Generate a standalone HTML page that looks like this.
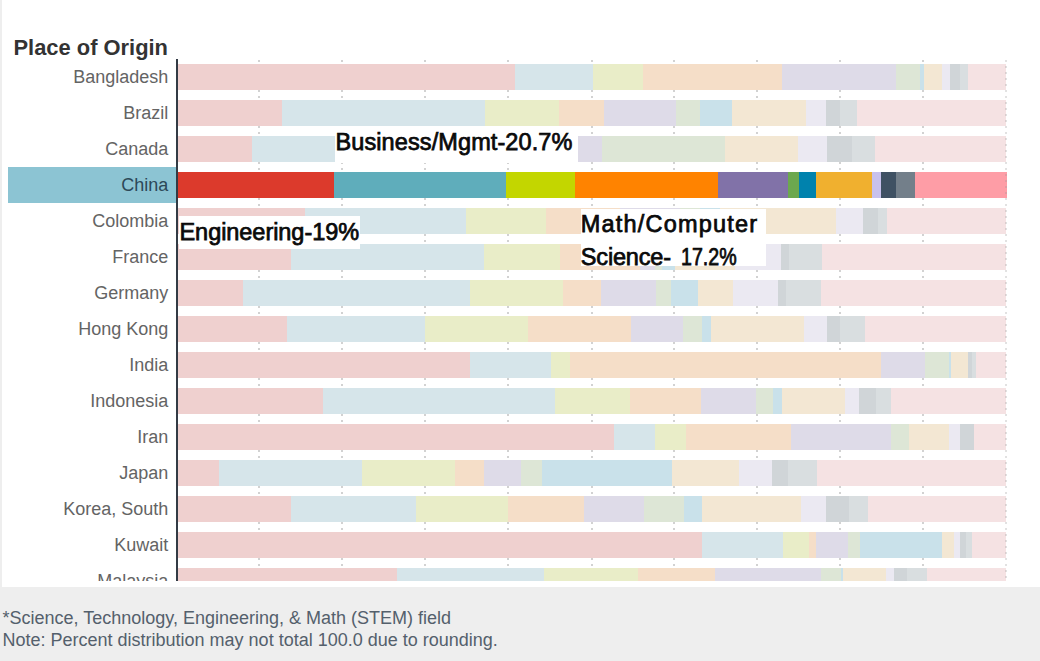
<!DOCTYPE html>
<html><head><meta charset="utf-8">
<style>
html,body{margin:0;padding:0;}
body{width:1040px;height:661px;position:relative;overflow:hidden;background:#fff;font-family:"Liberation Sans",sans-serif;}
#lstrip{position:absolute;left:0;top:0;width:2px;height:661px;background:#eeeeee;}
#title{position:absolute;left:13.5px;top:34px;font-size:21.9px;font-weight:bold;color:#333;white-space:nowrap;line-height:28px;}
#chart{position:absolute;left:0;top:0;width:1040px;height:580.5px;overflow:hidden;}
.g{position:absolute;top:59.5px;width:2px;height:530px;background:repeating-linear-gradient(to bottom,#d2d2d2 0,#d2d2d2 1.6px,transparent 1.6px,transparent 6px);}
.g2{position:absolute;top:59.5px;left:1004.6px;width:2px;height:530px;background:repeating-linear-gradient(to bottom,rgba(150,150,150,0.28) 0,rgba(150,150,150,0.28) 1.6px,transparent 1.6px,transparent 6px);}
.s{position:absolute;height:26px;}
.lab{position:absolute;right:871.7px;font-size:18px;color:#646464;white-space:nowrap;line-height:20px;}
.lab.hl{color:#2c4858;}
#hlband{position:absolute;left:8px;top:167px;width:168px;height:36px;background:#8cc4d3;}
#axis{position:absolute;left:176px;top:59px;width:2px;height:530px;background:#333b45;}
#footer{position:absolute;left:0;top:587px;width:1040px;height:74px;background:#eeeeee;}
.ft{position:absolute;left:2.5px;font-size:18px;color:#54606c;white-space:nowrap;line-height:22px;}
.box{position:absolute;background:#fff;}
.ann{position:absolute;font-weight:normal;color:#0a0a0a;-webkit-text-stroke:0.75px #0a0a0a;white-space:nowrap;font-size:23.5px;line-height:24px;}
</style></head><body>
<div id="lstrip"></div>
<div id="title">Place of Origin</div>
<div id="chart">
<div id="hlband"></div>
<div class="g" style="left:257.50px"></div>
<div class="g" style="left:341.00px"></div>
<div class="g" style="left:424.00px"></div>
<div class="g" style="left:507.00px"></div>
<div class="g" style="left:590.50px"></div>
<div class="g" style="left:673.00px"></div>
<div class="g" style="left:756.00px"></div>
<div class="g" style="left:839.00px"></div>
<div class="g" style="left:922.00px"></div>
<div class="s" style="left:178.3px;top:64px;width:827.3px;background:#efd0cf"></div>
<div class="s" style="left:515px;top:64px;width:490.6px;background:#d6e5ea"></div>
<div class="s" style="left:593px;top:64px;width:412.6px;background:#e9edc8"></div>
<div class="s" style="left:643px;top:64px;width:362.6px;background:#f5dec8"></div>
<div class="s" style="left:782px;top:64px;width:223.6px;background:#dedbe8"></div>
<div class="s" style="left:896px;top:64px;width:109.6px;background:#dde6d6"></div>
<div class="s" style="left:920px;top:64px;width:85.6px;background:#c9e1ea"></div>
<div class="s" style="left:924px;top:64px;width:81.6px;background:#f3e7d3"></div>
<div class="s" style="left:942px;top:64px;width:63.6px;background:#ebe9f2"></div>
<div class="s" style="left:950px;top:64px;width:55.6px;background:#d0d5d8"></div>
<div class="s" style="left:960px;top:64px;width:45.6px;background:#d9dee0"></div>
<div class="s" style="left:968px;top:64px;width:37.6px;background:#f5e2e3"></div>
<div class="s" style="left:178.3px;top:100px;width:827.3px;background:#efd0cf"></div>
<div class="s" style="left:282px;top:100px;width:723.6px;background:#d6e5ea"></div>
<div class="s" style="left:485px;top:100px;width:520.6px;background:#e9edc8"></div>
<div class="s" style="left:559px;top:100px;width:446.6px;background:#f5dec8"></div>
<div class="s" style="left:604px;top:100px;width:401.6px;background:#dedbe8"></div>
<div class="s" style="left:676px;top:100px;width:329.6px;background:#dde6d6"></div>
<div class="s" style="left:700px;top:100px;width:305.6px;background:#c9e1ea"></div>
<div class="s" style="left:732px;top:100px;width:273.6px;background:#f3e7d3"></div>
<div class="s" style="left:806px;top:100px;width:199.6px;background:#ebe9f2"></div>
<div class="s" style="left:826px;top:100px;width:179.6px;background:#d0d5d8"></div>
<div class="s" style="left:840px;top:100px;width:165.6px;background:#d9dee0"></div>
<div class="s" style="left:857px;top:100px;width:148.6px;background:#f5e2e3"></div>
<div class="s" style="left:178.3px;top:136px;width:827.3px;background:#efd0cf"></div>
<div class="s" style="left:252px;top:136px;width:753.6px;background:#d6e5ea"></div>
<div class="s" style="left:400px;top:136px;width:605.6px;background:#e9edc8"></div>
<div class="s" style="left:480px;top:136px;width:525.6px;background:#f5dec8"></div>
<div class="s" style="left:560px;top:136px;width:445.6px;background:#dedbe8"></div>
<div class="s" style="left:602px;top:136px;width:403.6px;background:#dde6d6"></div>
<div class="s" style="left:725px;top:136px;width:280.6px;background:#f3e7d3"></div>
<div class="s" style="left:798px;top:136px;width:207.6px;background:#ebe9f2"></div>
<div class="s" style="left:827px;top:136px;width:178.6px;background:#d0d5d8"></div>
<div class="s" style="left:852px;top:136px;width:153.6px;background:#d9dee0"></div>
<div class="s" style="left:875px;top:136px;width:130.6px;background:#f5e2e3"></div>
<div class="s" style="left:178.3px;top:171.5px;width:828.5px;background:#dc3a2c;height:26.5px"></div>
<div class="s" style="left:333.5px;top:171.5px;width:673.3px;background:#5fadbb;height:26.5px"></div>
<div class="s" style="left:506px;top:171.5px;width:500.8px;background:#c3d600;height:26.5px"></div>
<div class="s" style="left:575px;top:171.5px;width:431.8px;background:#ff8300;height:26.5px"></div>
<div class="s" style="left:718px;top:171.5px;width:288.8px;background:#8172a8;height:26.5px"></div>
<div class="s" style="left:788px;top:171.5px;width:218.8px;background:#6ca84e;height:26.5px"></div>
<div class="s" style="left:798.5px;top:171.5px;width:208.3px;background:#0082ad;height:26.5px"></div>
<div class="s" style="left:816px;top:171.5px;width:190.8px;background:#f0b02f;height:26.5px"></div>
<div class="s" style="left:872px;top:171.5px;width:134.8px;background:#c8c1ec;height:26.5px"></div>
<div class="s" style="left:881px;top:171.5px;width:125.8px;background:#3f5163;height:26.5px"></div>
<div class="s" style="left:896px;top:171.5px;width:110.8px;background:#737f8a;height:26.5px"></div>
<div class="s" style="left:915px;top:171.5px;width:91.8px;background:#fe9da6;height:26.5px"></div>
<div class="s" style="left:178.3px;top:208px;width:827.3px;background:#efd0cf"></div>
<div class="s" style="left:305px;top:208px;width:700.6px;background:#d6e5ea"></div>
<div class="s" style="left:465.5px;top:208px;width:540.1px;background:#e9edc8"></div>
<div class="s" style="left:546px;top:208px;width:459.6px;background:#f5dec8"></div>
<div class="s" style="left:620px;top:208px;width:385.6px;background:#dedbe8"></div>
<div class="s" style="left:680px;top:208px;width:325.6px;background:#dde6d6"></div>
<div class="s" style="left:700px;top:208px;width:305.6px;background:#c9e1ea"></div>
<div class="s" style="left:720px;top:208px;width:285.6px;background:#f3e7d3"></div>
<div class="s" style="left:836px;top:208px;width:169.6px;background:#ebe9f2"></div>
<div class="s" style="left:863px;top:208px;width:142.6px;background:#d0d5d8"></div>
<div class="s" style="left:878px;top:208px;width:127.6px;background:#d9dee0"></div>
<div class="s" style="left:887px;top:208px;width:118.6px;background:#f5e2e3"></div>
<div class="s" style="left:178.3px;top:244px;width:827.3px;background:#efd0cf"></div>
<div class="s" style="left:291px;top:244px;width:714.6px;background:#d6e5ea"></div>
<div class="s" style="left:484px;top:244px;width:521.6px;background:#e9edc8"></div>
<div class="s" style="left:560px;top:244px;width:445.6px;background:#f5dec8"></div>
<div class="s" style="left:640px;top:244px;width:365.6px;background:#dedbe8"></div>
<div class="s" style="left:655px;top:244px;width:350.6px;background:#dde6d6"></div>
<div class="s" style="left:662px;top:244px;width:343.6px;background:#c9e1ea"></div>
<div class="s" style="left:675px;top:244px;width:330.6px;background:#f3e7d3"></div>
<div class="s" style="left:735px;top:244px;width:270.6px;background:#ebe9f2"></div>
<div class="s" style="left:781px;top:244px;width:224.6px;background:#d0d5d8"></div>
<div class="s" style="left:789px;top:244px;width:216.6px;background:#d9dee0"></div>
<div class="s" style="left:822px;top:244px;width:183.6px;background:#f5e2e3"></div>
<div class="s" style="left:178.3px;top:280px;width:827.3px;background:#efd0cf"></div>
<div class="s" style="left:243px;top:280px;width:762.6px;background:#d6e5ea"></div>
<div class="s" style="left:470px;top:280px;width:535.6px;background:#e9edc8"></div>
<div class="s" style="left:563px;top:280px;width:442.6px;background:#f5dec8"></div>
<div class="s" style="left:601px;top:280px;width:404.6px;background:#dedbe8"></div>
<div class="s" style="left:656px;top:280px;width:349.6px;background:#dde6d6"></div>
<div class="s" style="left:671px;top:280px;width:334.6px;background:#c9e1ea"></div>
<div class="s" style="left:698px;top:280px;width:307.6px;background:#f3e7d3"></div>
<div class="s" style="left:733px;top:280px;width:272.6px;background:#ebe9f2"></div>
<div class="s" style="left:778px;top:280px;width:227.6px;background:#d0d5d8"></div>
<div class="s" style="left:786px;top:280px;width:219.6px;background:#d9dee0"></div>
<div class="s" style="left:821px;top:280px;width:184.6px;background:#f5e2e3"></div>
<div class="s" style="left:178.3px;top:316px;width:827.3px;background:#efd0cf"></div>
<div class="s" style="left:287px;top:316px;width:718.6px;background:#d6e5ea"></div>
<div class="s" style="left:425px;top:316px;width:580.6px;background:#e9edc8"></div>
<div class="s" style="left:528px;top:316px;width:477.6px;background:#f5dec8"></div>
<div class="s" style="left:631px;top:316px;width:374.6px;background:#dedbe8"></div>
<div class="s" style="left:683px;top:316px;width:322.6px;background:#dde6d6"></div>
<div class="s" style="left:702px;top:316px;width:303.6px;background:#c9e1ea"></div>
<div class="s" style="left:710.5px;top:316px;width:295.1px;background:#f3e7d3"></div>
<div class="s" style="left:804px;top:316px;width:201.6px;background:#ebe9f2"></div>
<div class="s" style="left:827px;top:316px;width:178.6px;background:#d0d5d8"></div>
<div class="s" style="left:840px;top:316px;width:165.6px;background:#d9dee0"></div>
<div class="s" style="left:865px;top:316px;width:140.6px;background:#f5e2e3"></div>
<div class="s" style="left:178.3px;top:352px;width:827.3px;background:#efd0cf"></div>
<div class="s" style="left:470px;top:352px;width:535.6px;background:#d6e5ea"></div>
<div class="s" style="left:551px;top:352px;width:454.6px;background:#e9edc8"></div>
<div class="s" style="left:570px;top:352px;width:435.6px;background:#f5dec8"></div>
<div class="s" style="left:880.5px;top:352px;width:125.1px;background:#dedbe8"></div>
<div class="s" style="left:925px;top:352px;width:80.6px;background:#dde6d6"></div>
<div class="s" style="left:948.5px;top:352px;width:57.1px;background:#c9e1ea"></div>
<div class="s" style="left:950.5px;top:352px;width:55.1px;background:#f3e7d3"></div>
<div class="s" style="left:967.5px;top:352px;width:38.1px;background:#d0d5d8"></div>
<div class="s" style="left:972px;top:352px;width:33.6px;background:#d9dee0"></div>
<div class="s" style="left:975.5px;top:352px;width:30.1px;background:#f5e2e3"></div>
<div class="s" style="left:178.3px;top:388px;width:827.3px;background:#efd0cf"></div>
<div class="s" style="left:323px;top:388px;width:682.6px;background:#d6e5ea"></div>
<div class="s" style="left:555px;top:388px;width:450.6px;background:#e9edc8"></div>
<div class="s" style="left:630px;top:388px;width:375.6px;background:#f5dec8"></div>
<div class="s" style="left:701px;top:388px;width:304.6px;background:#dedbe8"></div>
<div class="s" style="left:756px;top:388px;width:249.6px;background:#dde6d6"></div>
<div class="s" style="left:773px;top:388px;width:232.6px;background:#c9e1ea"></div>
<div class="s" style="left:782px;top:388px;width:223.6px;background:#f3e7d3"></div>
<div class="s" style="left:845px;top:388px;width:160.6px;background:#ebe9f2"></div>
<div class="s" style="left:859px;top:388px;width:146.6px;background:#d0d5d8"></div>
<div class="s" style="left:875.5px;top:388px;width:130.1px;background:#d9dee0"></div>
<div class="s" style="left:891px;top:388px;width:114.6px;background:#f5e2e3"></div>
<div class="s" style="left:178.3px;top:424px;width:827.3px;background:#efd0cf"></div>
<div class="s" style="left:614px;top:424px;width:391.6px;background:#d6e5ea"></div>
<div class="s" style="left:654.5px;top:424px;width:351.1px;background:#e9edc8"></div>
<div class="s" style="left:686px;top:424px;width:319.6px;background:#f5dec8"></div>
<div class="s" style="left:791px;top:424px;width:214.6px;background:#dedbe8"></div>
<div class="s" style="left:891px;top:424px;width:114.6px;background:#dde6d6"></div>
<div class="s" style="left:909px;top:424px;width:96.6px;background:#f3e7d3"></div>
<div class="s" style="left:949px;top:424px;width:56.6px;background:#ebe9f2"></div>
<div class="s" style="left:960px;top:424px;width:45.6px;background:#d0d5d8"></div>
<div class="s" style="left:973.5px;top:424px;width:32.1px;background:#f5e2e3"></div>
<div class="s" style="left:178.3px;top:460px;width:827.3px;background:#efd0cf"></div>
<div class="s" style="left:219px;top:460px;width:786.6px;background:#d6e5ea"></div>
<div class="s" style="left:362px;top:460px;width:643.6px;background:#e9edc8"></div>
<div class="s" style="left:455px;top:460px;width:550.6px;background:#f5dec8"></div>
<div class="s" style="left:484px;top:460px;width:521.6px;background:#dedbe8"></div>
<div class="s" style="left:521px;top:460px;width:484.6px;background:#dde6d6"></div>
<div class="s" style="left:542px;top:460px;width:463.6px;background:#c9e1ea"></div>
<div class="s" style="left:672px;top:460px;width:333.6px;background:#f3e7d3"></div>
<div class="s" style="left:739px;top:460px;width:266.6px;background:#ebe9f2"></div>
<div class="s" style="left:772px;top:460px;width:233.6px;background:#d0d5d8"></div>
<div class="s" style="left:788px;top:460px;width:217.6px;background:#d9dee0"></div>
<div class="s" style="left:817px;top:460px;width:188.6px;background:#f5e2e3"></div>
<div class="s" style="left:178.3px;top:496px;width:827.3px;background:#efd0cf"></div>
<div class="s" style="left:291px;top:496px;width:714.6px;background:#d6e5ea"></div>
<div class="s" style="left:416px;top:496px;width:589.6px;background:#e9edc8"></div>
<div class="s" style="left:508px;top:496px;width:497.6px;background:#f5dec8"></div>
<div class="s" style="left:584px;top:496px;width:421.6px;background:#dedbe8"></div>
<div class="s" style="left:644px;top:496px;width:361.6px;background:#dde6d6"></div>
<div class="s" style="left:684px;top:496px;width:321.6px;background:#c9e1ea"></div>
<div class="s" style="left:702px;top:496px;width:303.6px;background:#f3e7d3"></div>
<div class="s" style="left:801px;top:496px;width:204.6px;background:#ebe9f2"></div>
<div class="s" style="left:825.5px;top:496px;width:180.1px;background:#d0d5d8"></div>
<div class="s" style="left:849px;top:496px;width:156.6px;background:#d9dee0"></div>
<div class="s" style="left:867.5px;top:496px;width:138.1px;background:#f5e2e3"></div>
<div class="s" style="left:178.3px;top:532px;width:827.3px;background:#efd0cf"></div>
<div class="s" style="left:702px;top:532px;width:303.6px;background:#d6e5ea"></div>
<div class="s" style="left:783px;top:532px;width:222.6px;background:#e9edc8"></div>
<div class="s" style="left:809px;top:532px;width:196.6px;background:#f5dec8"></div>
<div class="s" style="left:816px;top:532px;width:189.6px;background:#dedbe8"></div>
<div class="s" style="left:848px;top:532px;width:157.6px;background:#dde6d6"></div>
<div class="s" style="left:860px;top:532px;width:145.6px;background:#c9e1ea"></div>
<div class="s" style="left:942px;top:532px;width:63.6px;background:#f3e7d3"></div>
<div class="s" style="left:953.5px;top:532px;width:52.1px;background:#ebe9f2"></div>
<div class="s" style="left:960px;top:532px;width:45.6px;background:#d0d5d8"></div>
<div class="s" style="left:966px;top:532px;width:39.6px;background:#d9dee0"></div>
<div class="s" style="left:972px;top:532px;width:33.6px;background:#f5e2e3"></div>
<div class="s" style="left:178.3px;top:568px;width:827.3px;background:#efd0cf"></div>
<div class="s" style="left:397px;top:568px;width:608.6px;background:#d6e5ea"></div>
<div class="s" style="left:544px;top:568px;width:461.6px;background:#e9edc8"></div>
<div class="s" style="left:638px;top:568px;width:367.6px;background:#f5dec8"></div>
<div class="s" style="left:715px;top:568px;width:290.6px;background:#dedbe8"></div>
<div class="s" style="left:821px;top:568px;width:184.6px;background:#dde6d6"></div>
<div class="s" style="left:841px;top:568px;width:164.6px;background:#c9e1ea"></div>
<div class="s" style="left:843px;top:568px;width:162.6px;background:#f3e7d3"></div>
<div class="s" style="left:885.5px;top:568px;width:120.1px;background:#ebe9f2"></div>
<div class="s" style="left:894px;top:568px;width:111.6px;background:#d0d5d8"></div>
<div class="s" style="left:907px;top:568px;width:98.6px;background:#d9dee0"></div>
<div class="s" style="left:927px;top:568px;width:78.6px;background:#f5e2e3"></div>
<div class="lab" style="top:66.8px">Bangladesh</div>
<div class="lab" style="top:102.8px">Brazil</div>
<div class="lab" style="top:138.8px">Canada</div>
<div class="lab hl" style="top:174.8px">China</div>
<div class="lab" style="top:210.8px">Colombia</div>
<div class="lab" style="top:246.8px">France</div>
<div class="lab" style="top:282.8px">Germany</div>
<div class="lab" style="top:318.8px">Hong Kong</div>
<div class="lab" style="top:354.8px">India</div>
<div class="lab" style="top:390.8px">Indonesia</div>
<div class="lab" style="top:426.8px">Iran</div>
<div class="lab" style="top:462.8px">Japan</div>
<div class="lab" style="top:498.8px">Korea, South</div>
<div class="lab" style="top:534.8px">Kuwait</div>
<div class="lab" style="top:570.8px">Malaysia</div>
<div class="g2"></div>
<div id="axis"></div>
</div>
<div class="box" style="left:335px;top:126px;width:243px;height:37px"></div>
<div class="ann" style="left:335.5px;top:129.5px;letter-spacing:0.1px">Business/Mgmt-20.7%</div>
<div class="box" style="left:179px;top:216px;width:181px;height:32.5px"></div>
<div class="ann" style="left:179.5px;top:219.5px;letter-spacing:-0.05px">Engineering-19%</div>
<div class="box" style="left:581px;top:209px;width:185px;height:57px"></div>
<div class="ann" style="left:580.8px;top:212.4px;letter-spacing:1.2px">Math/Computer</div>
<div class="ann" style="left:580.8px;top:244.5px;letter-spacing:-0.16px">Science-</div>
<div class="ann" style="left:681.3px;top:244.5px;transform:scaleX(0.835);transform-origin:0 0">17.2%</div>
<div id="footer"></div>
<div class="ft" style="top:607px">*Science, Technology, Engineering, &amp; Math (STEM) field</div>
<div class="ft" style="top:629px">Note: Percent distribution may not total 100.0 due to rounding.</div>
</body></html>
